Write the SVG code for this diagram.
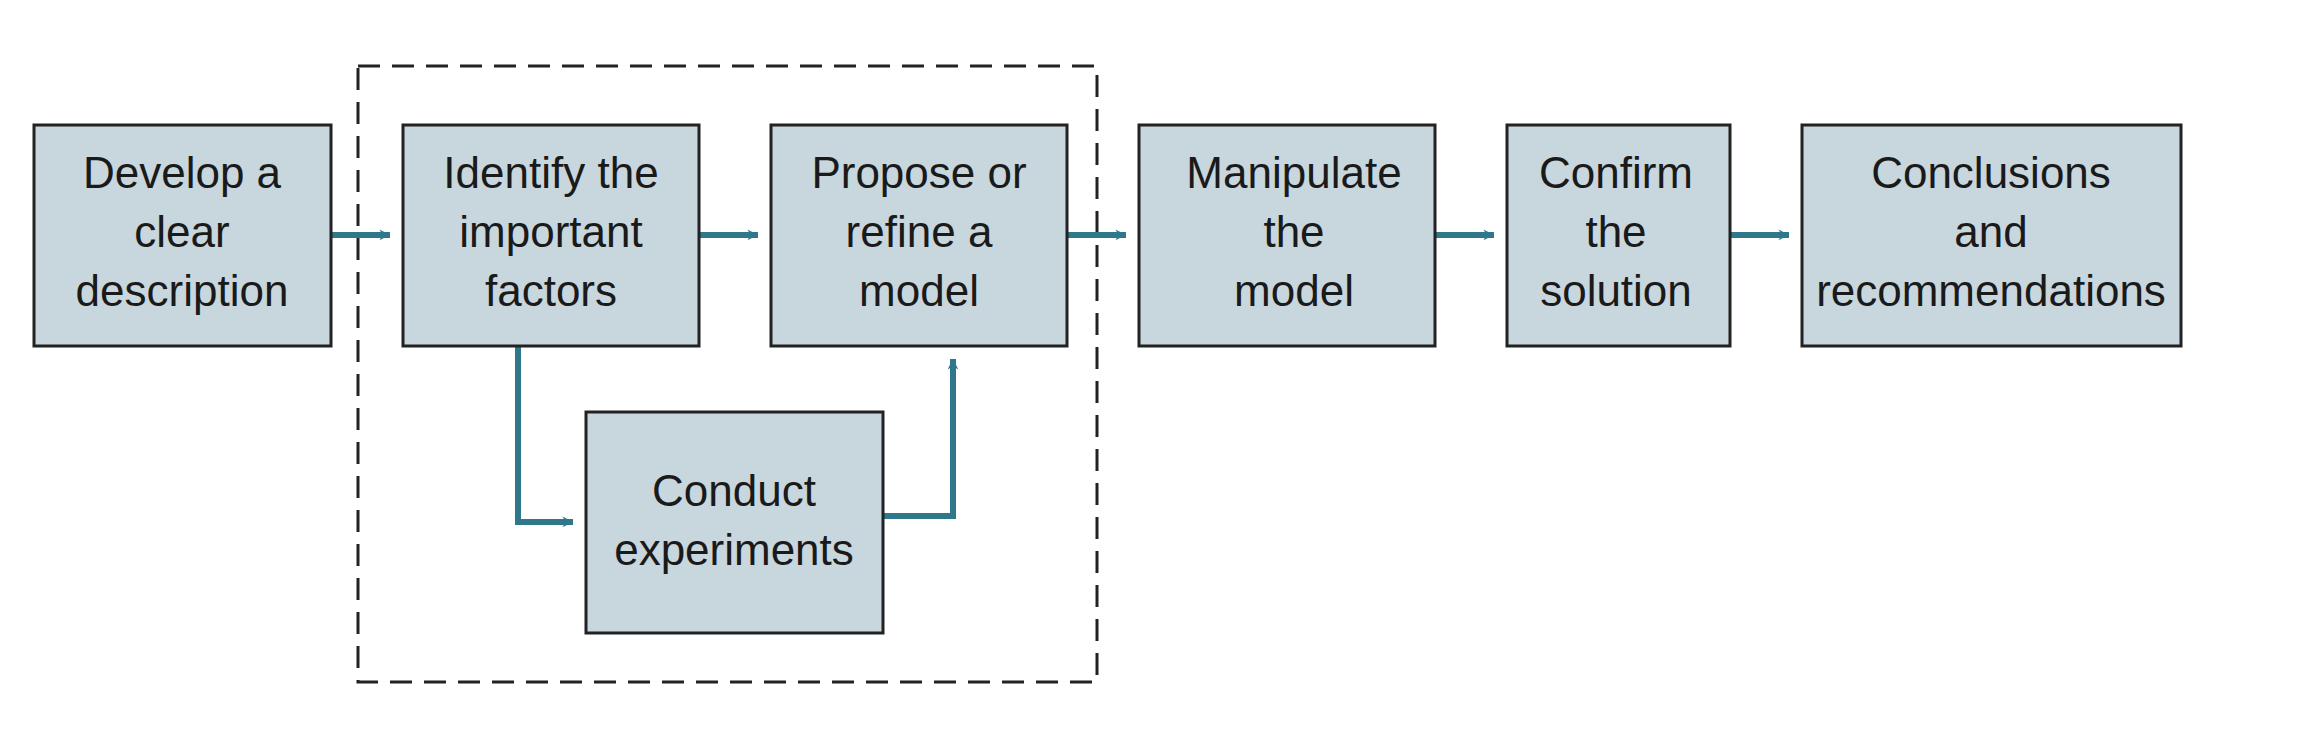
<svg xmlns="http://www.w3.org/2000/svg" width="2298" height="734" viewBox="0 0 2298 734">
<style>
.b{fill:#c8d6dd;stroke:#222;stroke-width:3}
.t{font-family:"Liberation Sans",Arial,sans-serif;font-size:44px;fill:#1a1a1a;text-anchor:middle}
.c{fill:none;stroke:#2f778a;stroke-width:6}
</style>
<defs>
<marker id="a" viewBox="0 0 20 20" refX="19" refY="10" markerWidth="6" markerHeight="6" markerUnits="userSpaceOnUse" orient="auto" style="overflow:visible">
<path d="M0,0 L20,10 L0,20 L6,10 Z" fill="#2f778a" transform="scale(1.8) translate(-9,-4.5)"/>
</marker>
</defs>
<rect x="358" y="66" width="739" height="616" fill="none" stroke="#222" stroke-width="3" stroke-dasharray="22,12"/>
<g id="connectors">
<path class="c" d="M331,235 H390" marker-end="url(#a)"/>
<path class="c" d="M699,235 H758" marker-end="url(#a)"/>
<path class="c" d="M1067,235 H1126" marker-end="url(#a)"/>
<path class="c" d="M1435,235 H1494" marker-end="url(#a)"/>
<path class="c" d="M1730,235 H1789" marker-end="url(#a)"/>
<path class="c" d="M518,346 V522 H573" marker-end="url(#a)"/>
<path class="c" d="M883,516 H953 V359" marker-end="url(#a)"/>
</g>
<g id="n1"><rect class="b" x="34" y="125" width="297" height="221"/><text class="t" x="182" y="188">Develop a</text><text class="t" x="182" y="247">clear</text><text class="t" x="182" y="306">description</text></g>
<g id="n2"><rect class="b" x="403" y="125" width="296" height="221"/><text class="t" x="551" y="188">Identify the</text><text class="t" x="551" y="247">important</text><text class="t" x="551" y="306">factors</text></g>
<g id="n3"><rect class="b" x="771" y="125" width="296" height="221"/><text class="t" x="919" y="188">Propose or</text><text class="t" x="919" y="247">refine a</text><text class="t" x="919" y="306">model</text></g>
<g id="n4"><rect class="b" x="1139" y="125" width="296" height="221"/><text class="t" x="1294" y="188">Manipulate</text><text class="t" x="1294" y="247">the</text><text class="t" x="1294" y="306">model</text></g>
<g id="n5"><rect class="b" x="1507" y="125" width="223" height="221"/><text class="t" x="1616" y="188">Confirm</text><text class="t" x="1616" y="247">the</text><text class="t" x="1616" y="306">solution</text></g>
<g id="n6"><rect class="b" x="1802" y="125" width="379" height="221"/><text class="t" x="1991" y="188">Conclusions</text><text class="t" x="1991" y="247">and</text><text class="t" x="1991" y="306">recommendations</text></g>
<g id="n7"><rect class="b" x="586" y="412" width="297" height="221"/><text class="t" x="734" y="506">Conduct</text><text class="t" x="734" y="565">experiments</text></g>
</svg>
